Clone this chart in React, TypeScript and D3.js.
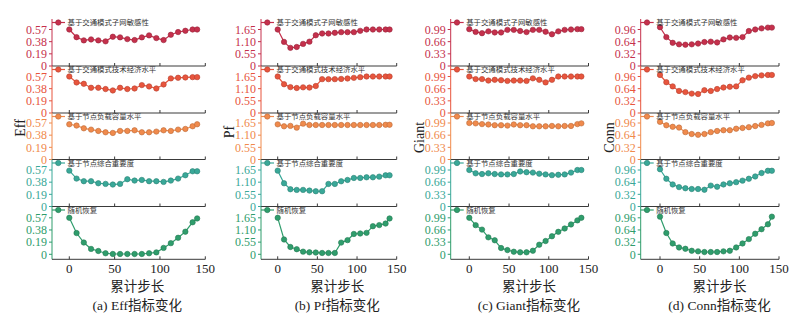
import React from 'react';
import * as d3 from 'd3';

// ---------- data ----------
const steps = [0, 8, 16, 24, 32, 40, 48, 56, 64, 72, 80, 88, 96, 104, 112, 120, 128, 136, 141];
const seriesNames = ['基于交通模式子网敏感性', '基于交通模式技术经济水平', '基于节点负载容量水平', '基于节点综合重要度', '随机恢复'];
const xTicks = [0, 50, 100, 150];
const indicatorNames = ['Eff', 'Pf', 'Giant', 'Conn'];
const panelLetters = ['a', 'b', 'c', 'd'];

const effTicks = [0, 0.19, 0.38, 0.57];
const pfTicks = [0, 0.55, 1.1, 1.65];
const giantTicks = [0, 0.33, 0.66, 0.99];
const connTicks = [0, 0.32, 0.64, 0.96];

const eff1 = [0.57, 0.45, 0.40, 0.415, 0.40, 0.385, 0.457, 0.447, 0.42, 0.405, 0.447, 0.478, 0.436, 0.405, 0.488, 0.53, 0.55, 0.57, 0.57];
const eff2 = [0.57, 0.477, 0.456, 0.394, 0.394, 0.374, 0.352, 0.394, 0.374, 0.383, 0.436, 0.415, 0.383, 0.446, 0.54, 0.55, 0.555, 0.56, 0.56];
const eff3 = [0.55, 0.53, 0.487, 0.467, 0.446, 0.425, 0.415, 0.446, 0.446, 0.456, 0.425, 0.425, 0.436, 0.456, 0.446, 0.467, 0.477, 0.519, 0.55];
const eff4 = [0.56, 0.436, 0.395, 0.395, 0.363, 0.353, 0.343, 0.353, 0.426, 0.405, 0.415, 0.395, 0.395, 0.384, 0.405, 0.436, 0.488, 0.55, 0.55];
const eff5 = [0.57, 0.332, 0.184, 0.084, 0.052, 0.016, 0.005, 0.005, 0.005, 0.005, 0.005, 0.016, 0.03, 0.1, 0.174, 0.258, 0.353, 0.5, 0.56];

const pf1 = [1.65, 1.09, 0.82, 0.86, 1.0, 1.1, 1.39, 1.47, 1.47, 1.5, 1.53, 1.53, 1.53, 1.59, 1.65, 1.65, 1.65, 1.65, 1.65];
const pf2 = [1.65, 1.30, 1.17, 1.13, 1.16, 1.15, 1.22, 1.53, 1.53, 1.53, 1.54, 1.56, 1.59, 1.62, 1.65, 1.65, 1.65, 1.65, 1.65];
const pf3 = [1.59, 1.50, 1.52, 1.44, 1.62, 1.56, 1.56, 1.56, 1.56, 1.56, 1.56, 1.56, 1.56, 1.56, 1.56, 1.56, 1.56, 1.57, 1.57];
const pf4 = [1.62, 1.05, 0.78, 0.75, 0.75, 0.72, 0.69, 0.69, 1.02, 1.02, 1.14, 1.20, 1.29, 1.29, 1.32, 1.32, 1.35, 1.41, 1.41];
const pf5 = [1.65, 0.67, 0.33, 0.23, 0.12, 0.09, 0.08, 0.06, 0.06, 0.06, 0.53, 0.64, 0.92, 0.94, 0.97, 1.27, 1.32, 1.39, 1.62];

const giant1 = [1.0, 0.925, 0.89, 0.94, 0.91, 0.91, 0.98, 0.98, 0.95, 0.92, 0.98, 0.98, 0.93, 0.86, 0.94, 0.98, 0.99, 1.0, 1.0];
const giant2 = [0.99, 0.92, 0.92, 0.88, 0.90, 0.89, 0.87, 0.88, 0.88, 0.87, 0.94, 0.90, 0.83, 0.90, 0.99, 0.99, 0.99, 0.99, 0.99];
const giant3 = [0.99, 0.98, 0.96, 0.95, 0.93, 0.93, 0.92, 0.95, 0.93, 0.93, 0.90, 0.90, 0.90, 0.91, 0.90, 0.91, 0.91, 0.96, 0.98];
const giant4 = [0.99, 0.90, 0.88, 0.90, 0.88, 0.87, 0.87, 0.88, 0.95, 0.93, 0.92, 0.89, 0.87, 0.85, 0.86, 0.87, 0.92, 0.99, 0.99];
const giant5 = [0.99, 0.79, 0.67, 0.46, 0.38, 0.17, 0.115, 0.07, 0.054, 0.054, 0.097, 0.26, 0.36, 0.49, 0.61, 0.70, 0.81, 0.92, 0.99];

const conn1 = [1.02, 0.76, 0.61, 0.57, 0.56, 0.57, 0.59, 0.63, 0.64, 0.62, 0.70, 0.75, 0.74, 0.76, 0.92, 0.96, 0.99, 1.01, 1.01];
const conn2 = [1.0, 0.81, 0.70, 0.58, 0.55, 0.51, 0.50, 0.60, 0.58, 0.63, 0.67, 0.69, 0.70, 0.86, 0.93, 0.97, 0.99, 1.0, 1.0];
const conn3 = [0.99, 0.90, 0.86, 0.84, 0.72, 0.67, 0.65, 0.67, 0.72, 0.75, 0.77, 0.77, 0.81, 0.83, 0.85, 0.88, 0.91, 0.95, 0.96];
const conn4 = [0.98, 0.73, 0.58, 0.51, 0.48, 0.46, 0.46, 0.44, 0.55, 0.52, 0.58, 0.61, 0.64, 0.68, 0.73, 0.79, 0.88, 0.94, 0.94];
const conn5 = [0.99, 0.56, 0.285, 0.18, 0.145, 0.093, 0.078, 0.06, 0.06, 0.06, 0.078, 0.093, 0.18, 0.285, 0.40, 0.54, 0.66, 0.79, 0.99];

const panelSeries = [
  [eff1, eff2, eff3, eff4, eff5],
  [pf1, pf2, pf3, pf4, pf5],
  [giant1, giant2, giant3, giant4, giant5],
  [conn1, conn2, conn3, conn4, conn5],
];
const panelTicks = [effTicks, pfTicks, giantTicks, connTicks];

// ---------- layout / style ----------
const W = 800;
const H = 321;
const seriesColors = ['#c5304c', '#e8553d', '#f08a4c', '#39a898', '#2f9d6c'];
const panelLayout = [
  { axisX: 52, x0: 69.3, x150: 205.3, labelY: 128 },
  { axisX: 261, x0: 277.7, x150: 396.7, labelY: 132 },
  { axisX: 450.7, x0: 469.3, x150: 588.5, labelY: 137.5 },
  { axisX: 640.7, x0: 660, x150: 779, labelY: 137.5 },
];
const subTop = [19, 66, 113, 159.5, 206.5];
const subZero = [66, 113, 159.5, 206.5, 254.3];
const subAxis = [66, 113, 159.5, 206.5, 259.3];
const tickPx = 36.5;
const serif = '"Liberation Serif", "DejaVu Serif", serif';
const cjk = '"Noto Sans CJK SC", sans-serif';
const axisColor = '#3a3a3a';

const fmt = (v: number) => (v === 0 ? '0' : v.toFixed(2));

function Panel({ p }: { p: number }) {
  const L = panelLayout[p];
  const x = d3.scaleLinear().domain([0, 150]).range([L.x0, L.x150]);
  const ticks = panelTicks[p];
  const tm = ticks[ticks.length - 1];
  const xMid = x(75);
  return (
    <g>
      {panelSeries[p].map((vals, i) => {
        const color = seriesColors[i];
        const dark = d3.color(color)!.darker(0.7).formatHex();
        const y = d3.scaleLinear().domain([0, tm]).range([subZero[i], subZero[i] - tickPx]);
        const line = d3
          .line<number>()
          .x((_, k) => x(steps[k]))
          .y((v) => y(v));
        const legY = subTop[i] + 3.5;
        return (
          <g key={i}>
            {/* left spine */}
            <line x1={L.axisX} x2={L.axisX} y1={subTop[i]} y2={subAxis[i]} stroke={color} strokeWidth={1} />
            {/* bottom spine */}
            <line x1={L.axisX} x2={x(150)} y1={subAxis[i]} y2={subAxis[i]} stroke={axisColor} strokeWidth={1} />
            {xTicks.map((t) => (
              <line key={t} x1={x(t)} x2={x(t)} y1={subAxis[i]} y2={subAxis[i] - 3} stroke={axisColor} strokeWidth={1} />
            ))}
            {ticks.map((t) => (
              <g key={t}>
                <line x1={L.axisX - 3} x2={L.axisX} y1={y(t)} y2={y(t)} stroke={color} strokeWidth={1} />
                <text x={L.axisX - 5} y={y(t)} dy="0.35em" textAnchor="end" fontFamily={serif} fontSize={12} fill={color}>
                  {fmt(t)}
                </text>
              </g>
            ))}
            <path d={line(vals) || ''} fill="none" stroke={color} strokeWidth={1.2} />
            {vals.map((v, k) => (
              <circle key={k} cx={x(steps[k])} cy={y(v)} r={2.7} fill={color} stroke={dark} strokeWidth={0.6} />
            ))}
            {/* legend */}
            <line x1={L.axisX} x2={L.axisX + 13} y1={legY} y2={legY} stroke={color} strokeWidth={1.2} />
            <circle cx={L.axisX + 6.3} cy={legY} r={2.7} fill={color} stroke={dark} strokeWidth={0.6} />
            <text x={L.axisX + 15.5} y={legY} dy="0.36em" fontFamily={cjk} fontSize={7.4} fill="#333">
              {seriesNames[i]}
            </text>
          </g>
        );
      })}
      {xTicks.map((t) => (
        <text key={t} x={x(t)} y={273} textAnchor="middle" fontFamily={serif} fontSize={13} fill="#222">
          {t}
        </text>
      ))}
      <text x={xMid} y={290.8} textAnchor="middle" fontFamily={cjk} fontSize={13.5} fill="#222">
        累计步长
      </text>
      <text x={xMid} y={309.5} textAnchor="middle" fontSize={13.5} fill="#222">
        <tspan fontFamily={serif}>{`(${panelLetters[p]}) ${indicatorNames[p]}`}</tspan>
        <tspan fontFamily={cjk}>指标变化</tspan>
      </text>
      <text
        transform={`translate(${L.axisX - 32},${L.labelY}) rotate(-90)`}
        textAnchor="middle"
        dy="0.35em"
        fontFamily={serif}
        fontSize={14}
        fill="#222"
      >
        {indicatorNames[p]}
      </text>
    </g>
  );
}

export default function App() {
  return (
    <svg width={W} height={H} viewBox={`0 0 ${W} ${H}`} style={{ position: 'absolute', left: 0, top: 0, background: '#fff' }}>
      <rect width={W} height={H} fill="#fff" />
      {panelLayout.map((_, p) => (
        <Panel key={p} p={p} />
      ))}
    </svg>
  );
}
